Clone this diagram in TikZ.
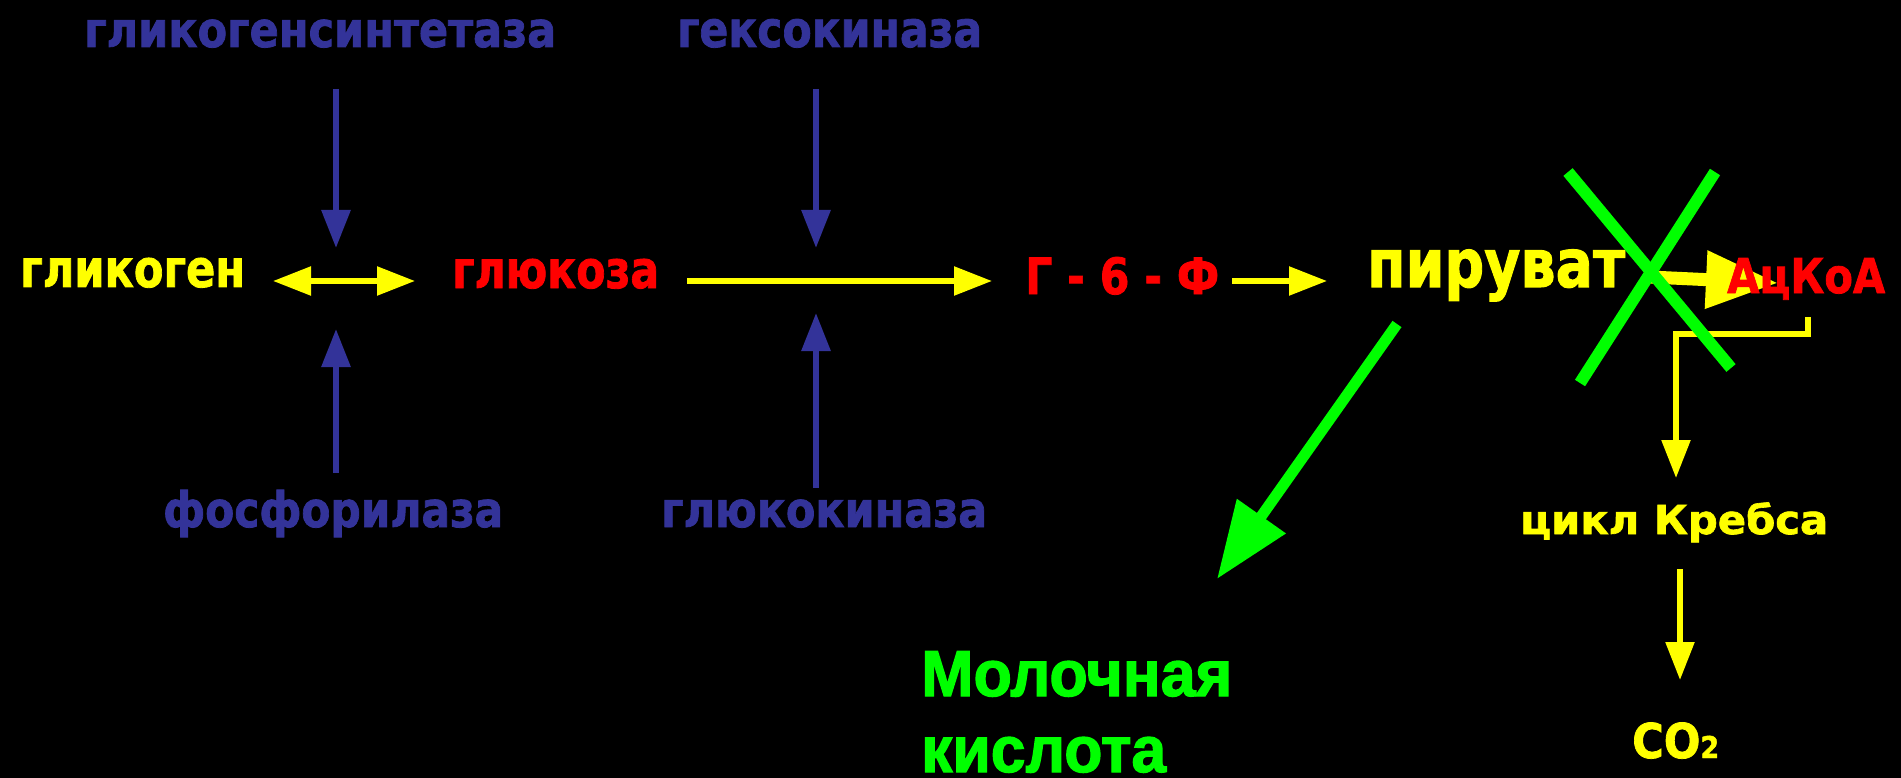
\documentclass[tikz,border=0pt]{standalone}
\usepackage{fontspec}
\usepackage{graphicx}
\usetikzlibrary{arrows.meta}
\newfontfamily\tah{DejaVu Sans}[BoldFeatures={FakeBold=1.6}]
\newfontfamily\ari{Liberation Sans}[BoldFeatures={FakeBold=2}]
\definecolor{enz}{RGB}{51,51,153}
\definecolor{yel}{RGB}{255,255,0}
\definecolor{rd}{RGB}{255,0,0}
\definecolor{grn}{RGB}{0,255,0}
\newcommand\fitw[2]{\resizebox{#1}{\height}{#2}}
\newcommand\tf[1]{\tah\bfseries\fontsize{#1}{#1}\selectfont}
\newcommand\af[1]{\ari\bfseries\fontsize{#1}{#1}\selectfont}
\begin{document}
\begin{tikzpicture}[x=1pt,y=-1pt,
  txt/.style={inner sep=0pt, anchor=base west},
  enzarrow/.style={draw=enz, line width=6pt, -{Triangle[length=38pt,width=28pt]}},
  yarrow/.style={draw=yel, line width=5.5pt, -{Triangle[length=38pt,width=28pt]}},
  ydarrow/.style={draw=yel, line width=5.5pt, {Triangle[length=38pt,width=28pt]}-{Triangle[length=38pt,width=28pt]}},
  bigyarrow/.style={draw=yel, line width=13pt, -{Triangle[length=72pt,width=55pt]}},
  garrow/.style={draw=grn, line width=11pt, -{Triangle[length=77pt,width=57pt]}},
  cross/.style={draw=grn, line width=12pt}]
\fill[black] (0,0) rectangle (1901,778);
\useasboundingbox (0,0) rectangle (1901,778);

% enzymes
\node[txt, text=enz] (gs) at (84,47) {\tf{49}\fitw{472pt}{гликогенсинтетаза}};
\node[txt, text=enz] (hk) at (677,47) {\tf{50}\fitw{305pt}{гексокиназа}};
\node[txt, text=enz] (ph) at (163,527) {\tf{49}\fitw{340pt}{фосфорилаза}};
\node[txt, text=enz] (gk) at (661,527) {\tf{49}\fitw{326pt}{глюкокиназа}};

% metabolites
\node[txt, text=yel] (glyc) at (20,287) {\tf{52}\fitw{225pt}{гликоген}};
\node[txt, text=rd] (glu) at (452,288) {\tf{52}\fitw{207pt}{глюкоза}};
\node[txt, text=rd] (g6p) at (1025,294) {\tf{50}\fitw{194pt}{Г - 6 - Ф}};
\node[txt, text=yel] (krebs) at (1520,534) {\tf{40}\fitw{308pt}{цикл Кребса}};
\node[txt, text=yel] (co2) at (1632,758) {\tf{48}\fitw{87pt}{CO{\fontsize{30}{30}\selectfont 2}}};
\node[txt, text=grn] (lac) at (921,696) {\af{65}\fitw{311pt}{Молочная}};
\node[txt, text=grn] (lac2) at (921,772) {\af{65}\fitw{245pt}{кислота}};

% coordinates
\coordinate (gsA) at (336,89);   \coordinate (gsB) at (336,248);
\coordinate (phA) at (336,473);  \coordinate (phB) at (336,329);
\coordinate (hkA) at (816,89);   \coordinate (hkB) at (816,248);
\coordinate (gkA) at (816,488);  \coordinate (gkB) at (816,313);
\coordinate (d1) at (273,281);   \coordinate (d2) at (415,281);
\coordinate (l1) at (687,281);   \coordinate (l2) at (992,281);
\coordinate (p1) at (1232,281);  \coordinate (p2) at (1327,281);
\coordinate (a1) at (1650,277);  \coordinate (a2) at (1778,283);
\coordinate (m1) at (1397,324);  \coordinate (m2) at (1217,579);
\coordinate (b1) at (1808,317);  \coordinate (b2) at (1808,334);
\coordinate (b3) at (1676,334);  \coordinate (b4) at (1676,478);
\coordinate (k1) at (1680,569);  \coordinate (k2) at (1680,680);
\coordinate (x1) at (1568,172);  \coordinate (x2) at (1731,368);
\coordinate (x3) at (1715,172);  \coordinate (x4) at (1580,383);

% arrows
\draw[enzarrow] (gsA) -- (gsB);
\draw[enzarrow] (phA) -- (phB);
\draw[enzarrow] (hkA) -- (hkB);
\draw[enzarrow] (gkA) -- (gkB);
\draw[ydarrow] (d1) -- (d2);
\draw[yarrow] (l1) -- (l2);
\draw[yarrow] (p1) -- (p2);
\draw[bigyarrow] (a1) -- (a2);
\draw[yarrow, miter limit=10] (b1) -- (b2) -- (b3) -- (b4);
\draw[yarrow] (k1) -- (k2);
\draw[garrow] (m1) -- (m2);

\node[txt, text=yel] (pyr) at (1367,287) {\tf{67}\fitw{258pt}{пируват}};
\node[txt, text=rd] (acoa) at (1727,293) {\tf{48}\fitw{158pt}{АцКоА}};

\draw[cross] (x1) -- (x2);
\draw[cross] (x3) -- (x4);
\end{tikzpicture}
\end{document}
